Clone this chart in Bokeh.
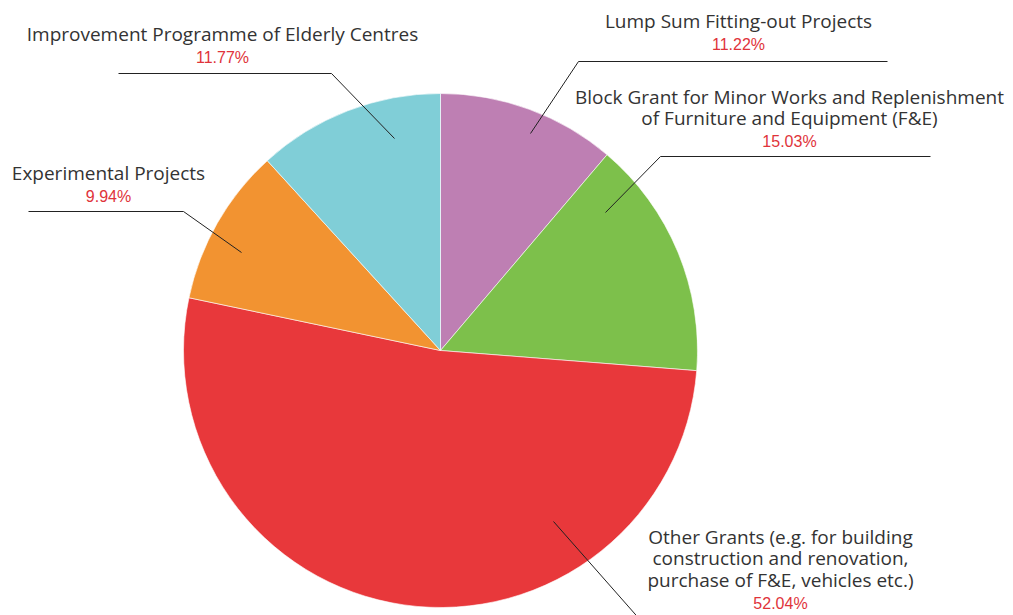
import numpy as np
from bokeh.plotting import figure
from bokeh.models import Range1d
from bokeh.core.properties import value
from bokeh.embed import file_html
from bokeh.resources import INLINE

# ---- data ----
categories = [
    "Lump Sum Fitting-out Projects",
    "Block Grant for Minor Works and Replenishment\nof Furniture and Equipment (F&E)",
    "Other Grants (e.g. for building\nconstruction and renovation,\npurchase of F&E, vehicles etc.)",
    "Experimental Projects",
    "Improvement Programme of Elderly Centres",
]
shares = [11.22, 15.03, 52.04, 9.94, 11.77]
colors = ["#BE7FB3", "#7DC04B", "#E8383B", "#F29331", "#80CED7"]

# ---- layout (page pixel coordinates) ----
center = (440, 350)
radius = 257
label_pos = [(738, 20), (789, 96), (780, 536), (108, 172), (222, 33)]
line_gap = 21.6
leaders = [
    [(530, 133), (578, 61), (887, 61)],
    [(605, 212), (660, 156), (930, 156)],
    [(553, 521), (642, 622)],
    [(28, 211), (183, 211), (241, 252)],
    [(118, 73), (331, 73), (394, 138)],
]

W, H = 1013, 615
p = figure(width=W, height=H, output_backend="svg", toolbar_location=None,
           x_range=Range1d(0, W), y_range=Range1d(-H, 0),
           min_border=0, background_fill_color="white", border_fill_color="white")
p.axis.visible = False
p.grid.visible = False
p.outline_line_color = None

vals = np.array(shares)
cum = np.cumsum(vals) / vals.sum()
prev = np.concatenate([[0], cum[:-1]])
starts = np.pi / 2 - prev * 2 * np.pi
ends = np.pi / 2 - cum * 2 * np.pi
p.wedge(x=center[0], y=-center[1], radius=radius, start_angle=starts, end_angle=ends,
        direction="clock", fill_color=colors, line_color="white", line_width=0.6)

for pts in leaders:
    p.line([q[0] for q in pts], [-q[1] for q in pts], line_color="#222222", line_width=1)

for cat, s, (cx, cy) in zip(categories, shares, label_pos):
    lines = cat.split("\n")
    ys = [-(cy + i * line_gap) for i in range(len(lines))]
    p.text(x=[cx] * len(lines), y=ys, text=lines, text_align="center", text_baseline="middle",
           text_font=value("Open Sans"), text_font_size="19px", text_color="#333333")
    py = cy + len(lines) * line_gap + 2
    p.text(x=[cx], y=[-py], text=[f"{s:.2f}%"], text_align="center", text_baseline="middle",
           text_font=value("Liberation Sans"), text_font_size="16px", text_color="#E0333A")

open("out.html", "w").write(file_html(p, INLINE))
